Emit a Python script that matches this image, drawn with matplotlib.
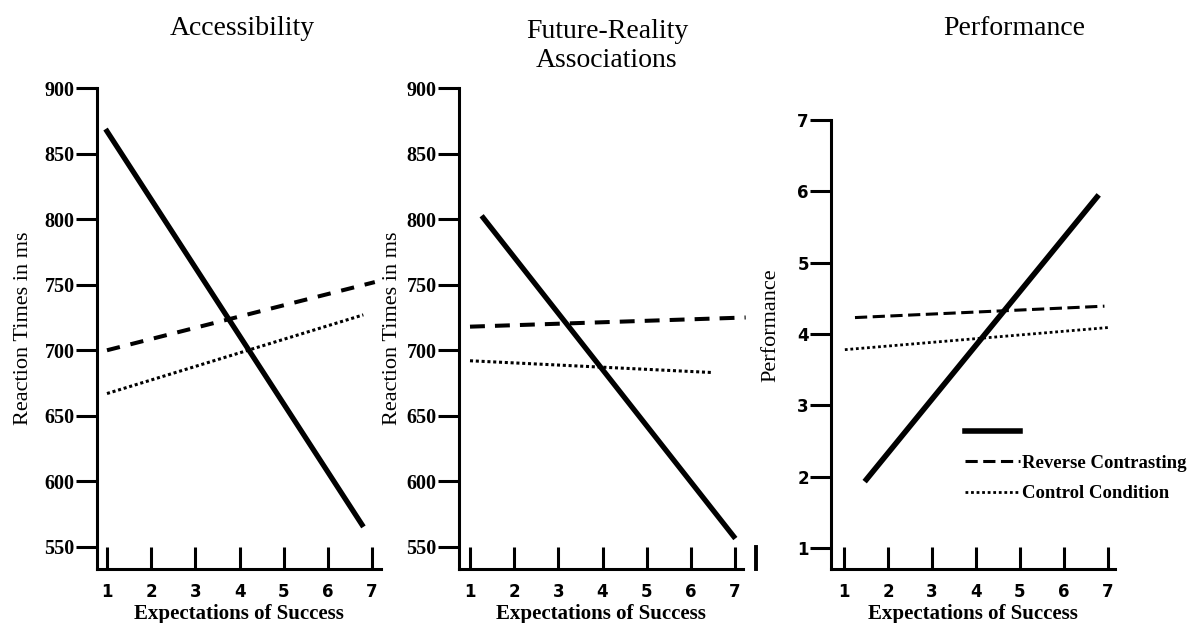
import matplotlib.pyplot as plt
import matplotlib.transforms as mtransforms

plt.rcParams['font.family'] = ['Liberation Serif', 'DejaVu Serif']

# Expectations of success on the x axis
x_ticks = [1, 2, 3, 4, 5, 6, 7]
x_tick_labels = ['1', '2', '3', '4', '5', '6', '7']

# Reaction time axes (panels 1 and 2)
rt_ticks = [550, 600, 650, 700, 750, 800, 850, 900]
rt_tick_labels = ['550', '600', '650', '700', '750', '800', '850', '900']

# Performance axis (panel 3)
perf_ticks = [1, 2, 3, 4, 5, 6, 7]
perf_tick_labels = ['1', '2', '3', '4', '5', '6', '7']

# Panel 1: Accessibility (start / end of each fitted line)
acc_solid_x = [1.0, 6.77]
acc_solid_y = [867, 567]
acc_dashed_x = [1.0, 7.06]
acc_dashed_y = [700, 752]
acc_dotted_x = [1.0, 6.8]
acc_dotted_y = [667, 727]

# Panel 2: Future-Reality Associations
fra_solid_x = [1.3, 6.97]
fra_solid_y = [801, 558]
fra_dashed_x = [1.0, 7.24]
fra_dashed_y = [718, 725]
fra_dotted_x = [1.0, 6.5]
fra_dotted_y = [692, 683]

# Panel 3: Performance
perf_solid_x = [1.51, 6.75]
perf_solid_y = [1.96, 5.92]
perf_dashed_x = [1.25, 6.92]
perf_dashed_y = [4.23, 4.39]
perf_dotted_x = [1.02, 7.0]
perf_dotted_y = [3.78, 4.09]

legend_labels = ['', 'Reverse Contrasting', 'Control Condition']

W, H = 1193, 623
fig = plt.figure(figsize=(W / 100, H / 100), dpi=100)


# Place an axes by its pixel box (left, top, right, bottom)
def add_axes(left, top, right, bottom):
    return fig.add_axes([left / W, 1 - bottom / H, (right - left) / W, (bottom - top) / H])


def style_axes(ax, yticks, ylabels, yfont):
    for side in ['top', 'right']:
        ax.spines[side].set_visible(False)
    for side in ['left', 'bottom']:
        ax.spines[side].set_linewidth(2.2)
    ax.tick_params(axis='y', direction='out', length=15, width=2.2, pad=1)
    ax.tick_params(axis='x', direction='in', length=16, width=2.2, pad=10)
    ax.set_xticks(x_ticks, x_tick_labels, fontfamily='DejaVu Sans',
                  fontweight='bold', fontsize=12)
    ax.set_yticks(yticks, ylabels, **yfont)
    ax.set_xlabel('Expectations of Success', fontweight='bold', fontsize=15, labelpad=2)


serif_ticks = dict(fontfamily='Liberation Serif', fontweight='bold', fontsize=14.5)
sans_ticks = dict(fontfamily='DejaVu Sans', fontweight='bold', fontsize=12)

# ---- Panel 1 ----
ax1 = add_axes(97, 88, 381, 569)
ax1.plot(acc_solid_x, acc_solid_y, color='black', lw=3.8, clip_on=False)
ax1.plot(acc_dashed_x, acc_dashed_y, color='black', lw=2.9, dashes=(3.3, 2.7), clip_on=False)
ax1.plot(acc_dotted_x, acc_dotted_y, color='black', lw=2.2, dashes=(1, 0.9), clip_on=False)
ax1.set_xlim(0.774, 7.2)
ax1.set_ylim(533.2, 900)
style_axes(ax1, rt_ticks, rt_tick_labels, serif_ticks)
ax1.set_ylabel('Reaction Times in ms', fontsize=16)
ax1.yaxis.set_label_coords(-0.225, 0.5)
ax1.set_title('Accessibility', fontsize=20, x=0.51, pad=38)

# ---- Panel 2 ----
ax2 = add_axes(459, 88, 743, 569)
ax2.plot(fra_solid_x, fra_solid_y, color='black', lw=3.8, clip_on=False)
ax2.plot(fra_dashed_x, fra_dashed_y, color='black', lw=2.9, dashes=(3.7, 2.5), clip_on=False)
ax2.plot(fra_dotted_x, fra_dotted_y, color='black', lw=2.2, dashes=(1, 0.9), clip_on=False)
ax2.set_xlim(0.751, 7.18)
ax2.set_ylim(533.2, 900)
style_axes(ax2, rt_ticks, rt_tick_labels, serif_ticks)
ax2.set_ylabel('Reaction Times in ms', fontsize=16)
ax2.yaxis.set_label_coords(-0.2, 0.5)
ax2.set_title('Future-Reality\nAssociations', fontsize=20, x=0.521, pad=15)

# stray tick mark to the right of the last x tick
trans = mtransforms.blended_transform_factory(ax2.transData, ax2.transAxes)
ax2.plot([7.47, 7.47], [0, 22 / 481], transform=trans, color='black', lw=2.8, clip_on=False)

# ---- Panel 3 ----
ax3 = add_axes(831, 120, 1115, 569)
h1, = ax3.plot(perf_solid_x, perf_solid_y, color='black', lw=4.0, clip_on=False)
h2, = ax3.plot(perf_dashed_x, perf_dashed_y, color='black', lw=2.2, dashes=(4, 1.8), clip_on=False)
h3, = ax3.plot(perf_dotted_x, perf_dotted_y, color='black', lw=2.0, dashes=(1, 1), clip_on=False)
ax3.set_xlim(0.705, 7.16)
ax3.set_ylim(0.705, 7)
style_axes(ax3, perf_ticks, perf_tick_labels, sans_ticks)
ax3.set_ylabel('Performance', fontsize=16)
ax3.yaxis.set_label_coords(-0.18, 0.543)
ax3.set_title('Performance', fontsize=20, x=0.644, pad=61)

ax3.legend([h1, h2, h3], legend_labels, loc='upper left',
           bbox_to_anchor=((965 - 831) / 284, (569 - 424) / 449),
           frameon=False, borderpad=0, borderaxespad=0,
           handlelength=2.93, handletextpad=0.1, labelspacing=0.72,
           prop=dict(family='Liberation Serif', weight='bold', size=13.5))

fig.savefig('out.png', dpi=100)
